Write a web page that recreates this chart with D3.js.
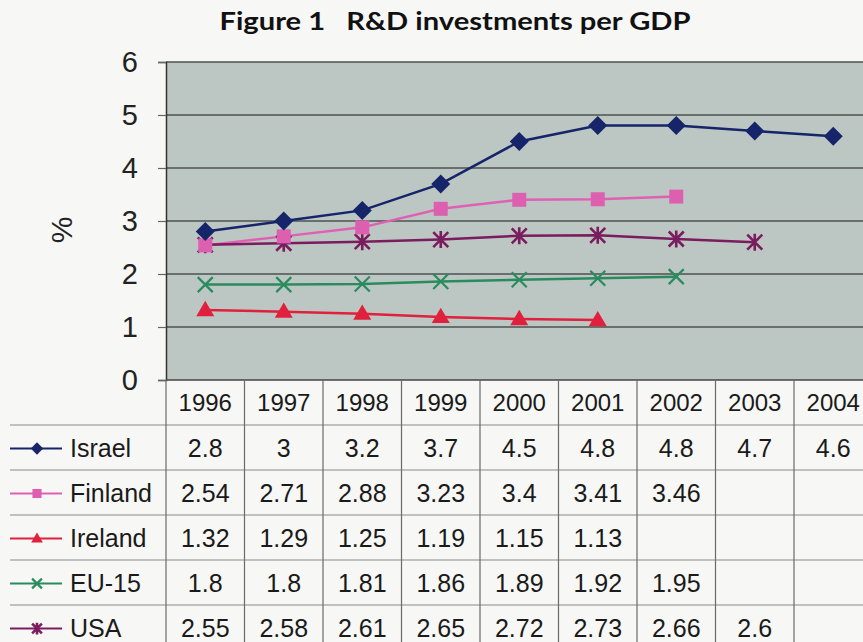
<!DOCTYPE html>
<html>
<head>
<meta charset="utf-8">
<script src="https://cdn.jsdelivr.net/npm/d3@7"></script>
<style>
  html, body { margin: 0; padding: 0; background: #f7f7f5; overflow: hidden; }
  svg { display: block; }
</style>
</head>
<body>
<svg id="chart" width="863" height="642"></svg>
<script>
// ---- data ----
const years = ["1996", "1997", "1998", "1999", "2000", "2001", "2002", "2003", "2004"];
const seriesNames = ["Israel", "Finland", "Ireland", "EU-15", "USA"];
const israel  = [2.8, 3, 3.2, 3.7, 4.5, 4.8, 4.8, 4.7, 4.6];
const finland = [2.54, 2.71, 2.88, 3.23, 3.4, 3.41, 3.46, null, null];
const ireland = [1.32, 1.29, 1.25, 1.19, 1.15, 1.13, null, null, null];
const eu15    = [1.8, 1.8, 1.81, 1.86, 1.89, 1.92, 1.95, null, null];
const usa     = [2.55, 2.58, 2.61, 2.65, 2.72, 2.73, 2.66, 2.6, null];
const yTicks  = [0, 1, 2, 3, 4, 5, 6];
const title = "Figure 1   R&D investments per GDP";
const yLabel = "%";

// ---- styles ----
const seriesValues = [israel, finland, ireland, eu15, usa];
const colors  = ["#16256a", "#e060b4", "#e0203c", "#2a8c5e", "#7a1c5e"];
const markerColors = ["#16256a", "#dd5fb0", "#e0203c", "#2a8c5e", "#7a1c5e"];
const symbols = ["diamond", "square", "triangle", "x", "asterisk"];

const svg = d3.select("#chart");
const W = 863, H = 642;

const plotLeft = 166, plotRight = 872.5, plotTop = 62, plotBottom = 380;
const x = d3.scaleBand().domain(years).range([plotLeft, plotRight]).padding(0);
const y = d3.scaleLinear().domain([0, 6]).range([plotBottom, plotTop]);

// Title
svg.append("text")
  .attr("x", 455).attr("y", 30)
  .attr("text-anchor", "middle")
  .style("white-space", "pre")
  .attr("xml:space", "preserve")
  .attr("font-family", "Lato, 'Open Sans', sans-serif")
  .attr("font-weight", 700)
  .attr("font-size", 25)
  .attr("textLength", 471)
  .attr("lengthAdjust", "spacingAndGlyphs")
  .attr("fill", "#111")
  .text(title);

// Plot background
svg.append("rect")
  .attr("x", plotLeft).attr("y", plotTop)
  .attr("width", plotRight - plotLeft).attr("height", plotBottom - plotTop)
  .attr("fill", "#bcc6c3");

// Gridlines
svg.append("g").selectAll("line")
  .data(yTicks.filter(t => t > 0))
  .join("line")
  .attr("x1", plotLeft).attr("x2", plotRight)
  .attr("y1", d => y(d)).attr("y2", d => y(d))
  .attr("stroke", "#4e5250").attr("stroke-width", 1.5);

// Y axis
const yAxis = svg.append("g")
  .attr("transform", `translate(${plotLeft},0)`)
  .call(d3.axisLeft(y).tickValues(yTicks).tickSize(8).tickPadding(20).tickFormat(d3.format("d")));
yAxis.select(".domain").attr("stroke", "#333").attr("stroke-width", 1.5);
yAxis.selectAll(".tick line").attr("stroke", "#666").attr("stroke-width", 1.2);
yAxis.selectAll(".tick text")
  .attr("font-family", "'Liberation Sans', Arial, sans-serif")
  .attr("font-size", 29)
  .attr("fill", "#222");

// Y label
svg.append("text")
  .attr("transform", "translate(72,230) rotate(-90)")
  .attr("text-anchor", "middle")
  .attr("font-family", "'Liberation Sans', Arial, sans-serif")
  .attr("font-size", 30)
  .attr("fill", "#222")
  .text(yLabel);

// Bottom of plot
svg.append("line")
  .attr("x1", plotLeft).attr("x2", plotRight)
  .attr("y1", plotBottom).attr("y2", plotBottom)
  .attr("stroke", "#444").attr("stroke-width", 1.5);

// ---- Lines and markers ----
const line = d3.line()
  .defined(d => d.v != null)
  .x(d => x(d.year) + x.bandwidth() / 2)
  .y(d => y(d.v));

function drawMarker(g, kind, color, size) {
  const s = size / 2;
  if (kind === "x") {
    g.append("path")
      .attr("d", `M${-s},${-s}L${s},${s}M${-s},${s}L${s},${-s}`)
      .attr("stroke", color).attr("stroke-width", 2.2).attr("fill", "none");
  } else if (kind === "asterisk") {
    g.append("path")
      .attr("d", `M${-s},${-s}L${s},${s}M${-s},${s}L${s},${-s}M0,${-s - 1}L0,${s + 1}`)
      .attr("stroke", color).attr("stroke-width", 2.6).attr("fill", "none");
  } else if (kind === "diamond") {
    g.append("path")
      .attr("d", `M0,${-s}L${s},0L0,${s}L${-s},0Z`)
      .attr("fill", color);
  } else if (kind === "square") {
    g.append("path")
      .attr("d", `M${-s},${-s}H${s}V${s}H${-s}Z`)
      .attr("fill", color);
  } else if (kind === "triangle") {
    const h = size * 0.85;
    g.append("path")
      .attr("d", `M0,${-h * 0.6}L${s},${h * 0.4}L${-s},${h * 0.4}Z`)
      .attr("fill", color);
  }
}

const markerSizes = [19, 14, 18, 15, 15];

seriesValues.forEach((vals, i) => {
  const data = years.map((yr, j) => ({ year: yr, v: vals[j] }));
  svg.append("path")
    .datum(data)
    .attr("d", line)
    .attr("fill", "none")
    .attr("stroke", colors[i])
    .attr("stroke-width", 2.5);
});
[4, 3, 2, 1, 0].forEach(i => {
  const vals = seriesValues[i];
  years.forEach((yr, j) => {
    if (vals[j] == null) return;
    const g = svg.append("g")
      .attr("transform", `translate(${x(yr) + x.bandwidth() / 2},${y(vals[j])})`);
    drawMarker(g, symbols[i], markerColors[i], markerSizes[i]);
  });
});

// ---- Data table ----
const rowKeys = ["header"].concat(seriesNames);
const rowH = 45;
const row = d3.scaleBand().domain(rowKeys).range([plotBottom, plotBottom + rowKeys.length * rowH]).padding(0);

const table = svg.append("g");
table.selectAll("line.h")
  .data(seriesNames)
  .join("line")
  .attr("class", "h")
  .attr("x1", 10).attr("x2", W)
  .attr("y1", d => row(d)).attr("y2", d => row(d))
  .attr("stroke", "#8a8a8a").attr("stroke-width", 1.2);
const boundaries = years.map(yr => x(yr)).concat([x(years[years.length - 1]) + x.bandwidth()]);
table.selectAll("line.v")
  .data(boundaries)
  .join("line")
  .attr("class", "v")
  .attr("x1", d => d).attr("x2", d => d)
  .attr("y1", plotBottom).attr("y2", H)
  .attr("stroke", "#6a6a6a").attr("stroke-width", 1.2);

const fontTable = "'Liberation Sans', Arial, sans-serif";
table.selectAll("text.yr")
  .data(years)
  .join("text")
  .attr("class", "yr")
  .attr("x", d => x(d) + x.bandwidth() / 2)
  .attr("y", row("header") + row.bandwidth() / 2 + 8)
  .attr("text-anchor", "middle")
  .attr("font-family", fontTable)
  .attr("font-size", 24)
  .attr("fill", "#1a1a1a")
  .text(d => d);

seriesNames.forEach((name, i) => {
  const vals = seriesValues[i];
  const cy = row(name) + row.bandwidth() / 2;
  table.append("g").selectAll("text")
    .data(years.map((yr, j) => ({ yr, v: vals[j] })).filter(d => d.v != null))
    .join("text")
    .attr("x", d => x(d.yr) + x.bandwidth() / 2)
    .attr("y", cy + 9)
    .attr("text-anchor", "middle")
    .attr("font-family", fontTable)
    .attr("font-size", 25)
    .attr("fill", "#1a1a1a")
    .text(d => String(d.v));

  table.append("line")
    .attr("x1", 10).attr("x2", 62)
    .attr("y1", cy + 1).attr("y2", cy + 1)
    .attr("stroke", colors[i]).attr("stroke-width", 2.2);
  const g = table.append("g").attr("transform", `translate(37,${cy + 1})`);
  drawMarker(g, symbols[i], markerColors[i], markerSizes[i] * 0.65);
  table.append("text")
    .attr("x", 70).attr("y", cy + 9)
    .attr("font-family", fontTable)
    .attr("font-size", 25)
    .attr("fill", "#1a1a1a")
    .text(name);
});
</script>
</body>
</html>
